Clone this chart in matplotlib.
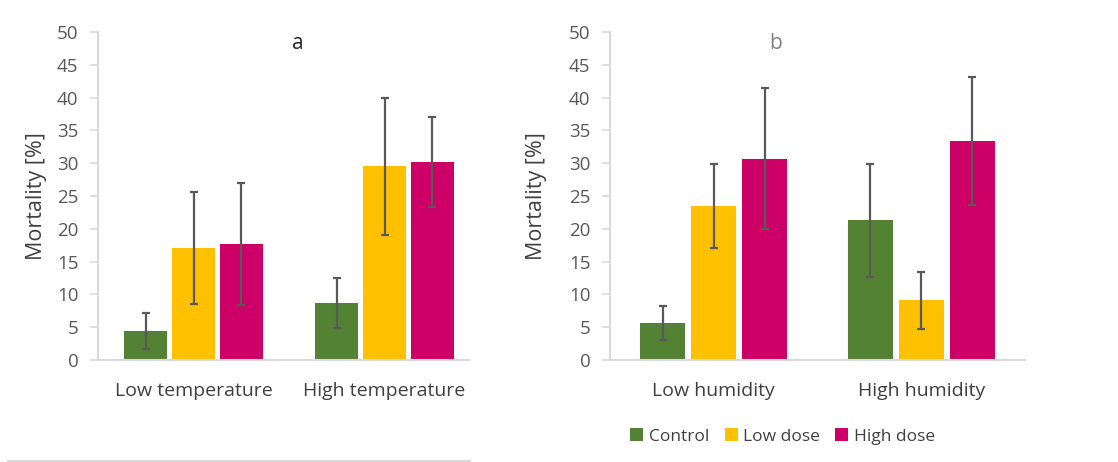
import matplotlib
matplotlib.use("Agg")
import matplotlib.pyplot as plt
import numpy as np
from matplotlib.lines import Line2D
from matplotlib.patches import Patch

plt.rcParams['font.family'] = ['Open Sans', 'DejaVu Sans']

series = ["Control", "Low dose", "High dose"]
colors = ["#548235", "#FFC000", "#CC0066"]

cats_a = ["Low temperature", "High temperature"]
vals_a = [[4.4, 8.7], [17.1, 29.5], [17.7, 30.2]]
err_a = [[2.8, 3.8], [8.5, 10.4], [9.3, 6.9]]

cats_b = ["Low humidity", "High humidity"]
vals_b = [[5.7, 21.3], [23.5, 9.1], [30.7, 33.4]]
err_b = [[2.6, 8.6], [6.4, 4.3], [10.7, 9.8]]

yticks = list(range(0, 51, 5))

fig = plt.figure(figsize=(11.18, 4.62), dpi=100)
axA = fig.add_axes([0.0877, 0.2208, 0.3417, 0.7099])
axB = fig.add_axes([0.5456, 0.2208, 0.3712, 0.7099])

def draw(ax, cats, vals, errs, title, title_color, title_x, width, step, lpad):
    x = np.arange(len(cats))
    for i, (v, e, c) in enumerate(zip(vals, errs, colors)):
        off = (i - 1) * step
        ax.bar(x + off, v, width=width, color=c, edgecolor='none', label=series[i], zorder=2)
        ax.errorbar(x + off, v, yerr=e, fmt='none', ecolor='#595959', elinewidth=1.6,
                    capsize=3, capthick=1.6, zorder=3)
    ax.set_xlim(-0.5, len(cats) - 0.5)
    ax.set_ylim(0, 50)
    ax.set_yticks(yticks)
    ax.set_xticks(x)
    ax.set_xticklabels(cats, fontsize=14, color='#404040')
    ax.tick_params(axis='x', length=0, pad=16)
    ax.tick_params(axis='y', length=6, width=1.2, color='#d9d9d9', labelsize=13.5,
                   labelcolor='#595959', pad=8)
    for s in ['top', 'right']:
        ax.spines[s].set_visible(False)
    ax.spines['left'].set_color('#d9d9d9')
    ax.spines['left'].set_linewidth(1.5)
    ax.spines['bottom'].set_color('#d9d9d9')
    ax.spines['bottom'].set_linewidth(1.5)
    ax.set_ylabel("Mortality [%]", fontsize=15.5, color='#404040', labelpad=lpad)
    ax.text(title_x, 0.965, title, transform=ax.transAxes, ha='center', va='center',
            fontsize=15, color=title_color)

draw(axA, cats_a, vals_a, err_a, "a", "#262626", 0.524, 0.225, 0.25, 7)
draw(axB, cats_b, vals_b, err_b, "b", "#7f7f7f", 0.398, 0.217, 0.246, 16)
axA.spines['bottom'].set_bounds(-0.5, 1.44)

handles = [Patch(facecolor=c, edgecolor='none') for c in colors]
fig.legend(handles, series, loc='center', bbox_to_anchor=(0.70, 0.055), ncol=3,
           frameon=False, fontsize=12.5, handlelength=0.75, handleheight=0.75,
           handletextpad=0.3, columnspacing=0.9, labelcolor='#404040')

fig.add_artist(Line2D([0.007, 0.42], [0.003, 0.003], transform=fig.transFigure,
                      color='#d9d9d9', linewidth=1.5))

fig.savefig("out.png", dpi=100)
